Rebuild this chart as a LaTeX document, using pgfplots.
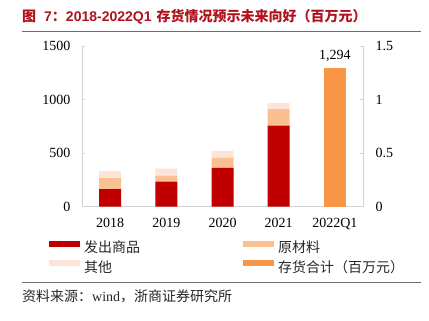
\documentclass[border=0pt]{standalone}
\usepackage{pgfplots}
\pgfplotsset{compat=1.18}
\usepackage{fontspec}
\setmainfont{Liberation Serif}
\newfontfamily\cjk{Noto Sans CJK SC}
\newfontfamily\sans{Liberation Sans}
\definecolor{cred}{RGB}{192,0,0}
\definecolor{craw}{RGB}{250,192,144}
\definecolor{coth}{RGB}{252,228,214}
\definecolor{ctot}{RGB}{247,150,70}
\definecolor{axgray}{RGB}{210,210,210}
\definecolor{titlered}{RGB}{176,18,28}
\definecolor{rulegray}{RGB}{110,110,110}
\begin{document}
\begin{tikzpicture}
\useasboundingbox (0,0) rectangle (429bp,321bp);
\node[anchor=west, inner sep=0pt, text=titlered, font=\fontsize{14bp}{16bp}\selectfont\bfseries] at (22bp,304bp)
  {\cjk 图\hspace{8bp}\sans 7\cjk：\sans 2018-2022Q1\hspace{5bp}\cjk 存货情况预示未来向好（百万元）};
\draw[rulegray, line width=1.2bp] (22bp,289.3bp) -- (421bp,289.3bp);
\draw[rulegray, line width=1.2bp] (22bp,38.7bp) -- (421bp,38.7bp);
\node[anchor=west, inner sep=0pt, text=black!85, font=\fontsize{14bp}{16bp}\selectfont] at (22bp,25bp)
  {\cjk 资料来源：\rmfamily wind\cjk，浙商证券研究所};

\begin{axis}[
  at={(82bp,114.3bp)}, anchor=south west,
  scale only axis, width=281bp, height=160.5bp,
  xmin=-0.5, xmax=4.5, ymin=0, ymax=1500,
  ybar stacked, bar width=22bp,
  axis x line*=bottom, axis y line*=left,
  axis line style={draw=axgray, line width=0.8bp, -},
  xtick={0,1,2,3,4}, xticklabels={2018,2019,2020,2021,2022Q1},
  ytick={0,500,1000,1500},
  tick align=inside, major tick length=3bp,
  y tick style={draw=axgray, line width=0.8bp},
  x tick style={draw=none},
  ticklabel style={font=\fontsize{14bp}{16bp}\selectfont},
  /pgf/number format/assume math mode=true,
  /pgf/number format/1000 sep={},
  yticklabel style={xshift=-8bp},
  xticklabel style={yshift=-7.5bp},
  legend columns=2,
  legend cell align=left,
  legend image code/.code={\fill[#1] (0bp,2.3bp) rectangle (31bp,8.3bp);},
  legend style={draw=none, fill=none, inner sep=0pt, outer sep=0pt,
    at={(-0.1174,-0.2137)}, anchor=north west,
    nodes={inner sep=0pt, text height=10bp, text depth=3bp, font=\cjk\fontsize{14bp}{16bp}\selectfont, text=black!85},
    row sep=4.6bp,
    /tikz/column 1/.style={column sep=4bp},
    /tikz/column 2/.style={column sep=0bp},
    /tikz/column 3/.style={column sep=4bp}},
]
\addplot[fill=cred, draw=none] coordinates {(0,165) (1,234) (2,364) (3,757)};
\addlegendentry{\makebox[159bp][l]{发出商品}}
\addplot[fill=craw, draw=none] coordinates {(0,103) (1,56) (2,94) (3,156)};
\addlegendentry{原材料}
\addplot[fill=coth, draw=none] coordinates {(0,66) (1,65) (2,63) (3,56)};
\addlegendentry{\makebox[159bp][l]{其他}}
\addlegendimage{fill=ctot, draw=none}
\addlegendentry{存货合计（百万元）}
\end{axis}

\begin{axis}[
  at={(82bp,114.3bp)}, anchor=south west,
  scale only axis, width=281bp, height=160.5bp,
  xmin=-0.5, xmax=4.5, ymin=0, ymax=1500,
  ybar, bar width=22bp,
  axis y line*=right, axis x line=none,
  axis line style={draw=axgray, line width=0.8bp, -},
  ytick={0,500,1000,1500}, yticklabels={0,0.5,1,1.5},
  tick align=inside, major tick length=3bp,
  y tick style={draw=axgray, line width=0.8bp},
  ticklabel style={font=\fontsize{14bp}{16bp}\selectfont},
  /pgf/number format/assume math mode=true,
  yticklabel style={xshift=9bp},
  nodes near coords={\pgfmathprintnumber[1000 sep={,}]{\pgfplotspointmeta}},
  nodes near coords style={font=\fontsize{14bp}{16bp}\selectfont, yshift=3bp, /pgf/number format/assume math mode=true},
]
\addplot[fill=ctot, draw=none] coordinates {(4,1294)};
\end{axis}
\end{tikzpicture}
\end{document}
